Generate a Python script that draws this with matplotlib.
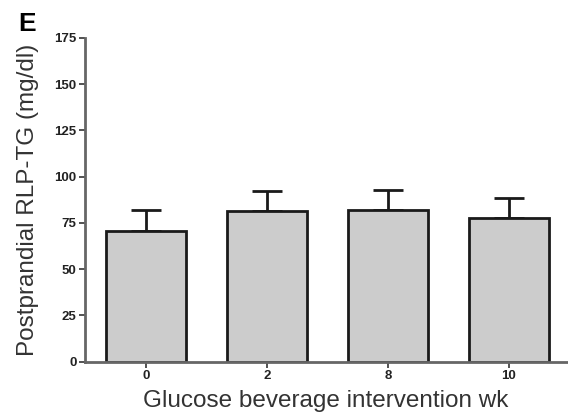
import matplotlib
matplotlib.use("Agg")
import matplotlib.pyplot as plt

# RLP-TG after glucose beverage, by intervention week
weeks = ["0", "2", "8", "10"]
means = [70.5, 81.5, 81.8, 77.5]
sem = [11.5, 11.0, 11.2, 11.0]
yticks = [0, 25, 50, 75, 100, 125, 150, 175]

plt.rcParams['font.family'] = ['Liberation Sans', 'DejaVu Sans']

fig = plt.figure(figsize=(5.68, 4.18), dpi=100)
ax = fig.add_axes([85 / 568, 1 - 361.7 / 418, 482 / 568, (361.7 - 38) / 418])

x = list(range(len(weeks)))
ax.bar(x, means, width=0.66, color='#cccccc', edgecolor='#1a1a1a', linewidth=2, zorder=2)
ax.errorbar(x, means, yerr=[[0] * len(sem), sem], fmt='none', ecolor='#1a1a1a',
            elinewidth=2, capsize=10.5, capthick=2, zorder=1)

ax.set_xlim(-0.505, 3.48)
ax.set_ylim(0, 175)
ax.set_xticks(x)
ax.set_xticklabels(weeks)
ax.set_yticks(yticks)
ax.tick_params(axis='both', labelsize=9.5, width=1.2, length=4, color='#333333',
               labelcolor='#222222', pad=2)
for lbl in ax.get_xticklabels() + ax.get_yticklabels():
    lbl.set_fontweight('bold')
for side in ('top', 'right'):
    ax.spines[side].set_visible(False)
for side in ('left', 'bottom'):
    ax.spines[side].set_color('#666666')
    ax.spines[side].set_linewidth(2)

ax.set_xlabel('Glucose beverage intervention wk', fontsize=17.5, color='#333333', labelpad=6)
ax.set_ylabel('Postprandial RLP-TG (mg/dl)', fontsize=17.5, color='#333333', labelpad=11)

fig.text(18 / 568, 1 - 24 / 418, 'E', fontsize=19, fontweight='bold', va='center', ha='left')

fig.savefig('out.png', dpi=100, facecolor='white')
